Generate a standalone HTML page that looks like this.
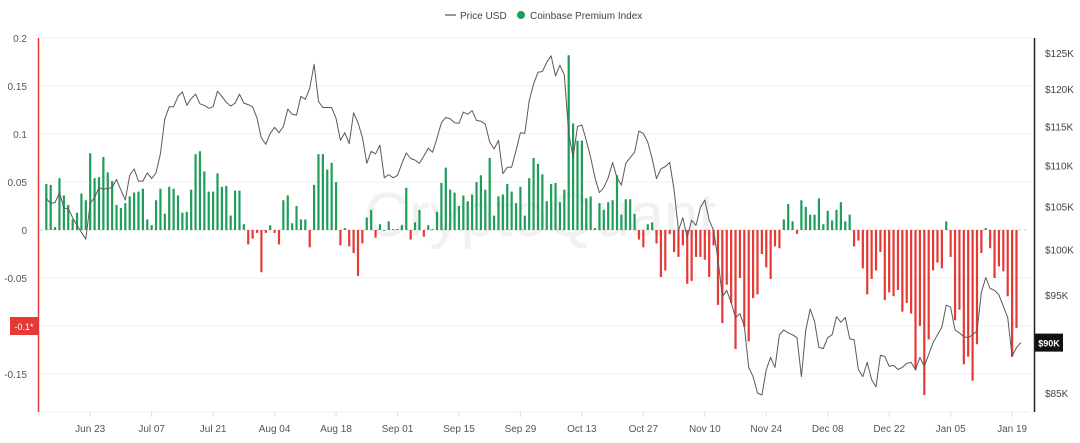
<!DOCTYPE html>
<html><head><meta charset="utf-8"><style>
html,body{margin:0;padding:0;background:#fff;}
body{width:1080px;height:438px;overflow:hidden;font-family:"Liberation Sans",sans-serif;}
svg text{font-family:"Liberation Sans",sans-serif;}
</style></head><body>
<svg id="chart" width="1080" height="438" viewBox="0 0 1080 438" xmlns="http://www.w3.org/2000/svg">
  <text x="540" y="236" text-anchor="middle" font-size="62" fill="#f1f1f3">CryptoQuant</text>
  <g id="grid"></g>
  <g id="bars"></g>
  <g id="line"></g>
  <g id="axes"></g>
  <g>
    <line x1="445" y1="15" x2="456" y2="15" stroke="#555" stroke-width="1.2"/>
    <text x="460" y="19" font-size="10" fill="#444">Price USD</text>
    <circle cx="521" cy="15" r="4" fill="#1f9d5a"/>
    <text x="530" y="19" font-size="10" fill="#444">Coinbase Premium Index</text>
  </g>
</svg>
<script>
const premium = [0.048,0.047,0.003,0.054,0.036,0.026,0.011,0.018,0.038,0.031,0.080,0.054,0.055,0.076,0.060,0.051,0.026,0.023,0.028,0.035,0.039,0.040,0.043,0.011,0.005,0.031,0.043,0.017,0.045,0.043,0.036,0.018,0.019,0.042,0.079,0.082,0.061,0.040,0.040,0.059,
0.045,0.046,0.015,0.041,0.041,0.006,-0.015,-0.009,-0.003,-0.044,-0.003,0.005,-0.003,-0.015,0.031,0.036,0.007,0.025,0.011,0.011,-0.018,0.047,0.079,0.079,0.063,0.070,0.050,-0.016,0.002,-0.017,-0.024,-0.048,-0.014,0.013,0.021,-0.008,0.006,0.000,0.009,0.001,
0.001,0.005,0.044,-0.010,0.008,0.021,-0.007,0.005,0.001,0.019,0.049,0.065,0.042,0.039,0.025,0.036,0.030,0.037,0.050,0.057,0.042,0.075,0.015,0.035,0.037,0.048,0.040,0.028,0.045,0.015,0.054,0.075,0.069,0.058,0.030,0.048,0.049,0.029,0.042,0.182,0.111,
0.093,0.093,0.033,0.035,0.002,0.028,0.021,0.029,0.031,0.057,0.016,0.032,0.032,0.017,-0.010,-0.018,0.006,0.008,-0.014,-0.049,-0.042,-0.004,-0.023,-0.028,-0.016,-0.056,-0.053,-0.028,-0.028,-0.031,-0.049,-0.016,-0.078,-0.097,-0.057,-0.076,-0.124,-0.050,-0.101,-0.116,
-0.071,-0.067,-0.025,-0.039,-0.051,-0.017,-0.019,0.011,0.027,0.009,-0.004,0.031,0.024,0.016,0.016,0.033,0.006,0.020,0.010,0.021,0.029,0.009,0.016,
-0.017,-0.011,-0.040,-0.067,-0.051,-0.042,
-0.023,-0.073,-0.065,-0.069,-0.0625,-0.085,-0.076,-0.087,-0.146,-0.100,-0.172,-0.114,-0.042,-0.034,-0.040,0.009,-0.028,-0.094,-0.083,-0.140,-0.132,-0.157,-0.119,-0.024,0.002,-0.019,-0.050,-0.038,-0.043,-0.069,-0.132,-0.102];
const priceK = [106,105.4,105.5,106.7,104.8,104.8,103.7,102.8,102,101.2,105.4,106.1,107.3,107.1,107.2,107.3,108.3,107,105.8,108.8,109.6,108.1,108.1,109.1,108.4,109.1,111.5,116,117.6,117.6,119,119.6,117.8,118.7,119.3,118,117.8,117.4,117.6,119.7,
119,118.2,117.7,118.1,119.3,118.1,117.9,117.6,116.1,113.5,112.7,114.1,114.9,114.2,115,117.3,116.6,116.5,119,118.6,120.1,123.4,118.3,117.5,117.5,117.5,116.1,113.2,114.2,112.8,116.8,115.5,113.6,110.3,111.8,111.5,112.6,108.5,108.9,108.5,
108.8,110.3,111.6,110.9,110.7,110.3,111.2,112.2,111.7,113.5,115.5,116.2,116,115.5,115.4,116.9,116.6,117.1,115.8,115.7,115.3,113,112.1,113.2,109,109.8,109.8,111.9,114.2,114.1,118.4,120.7,122.3,122.4,123.7,124.6,121.8,123.3,121.9,114.1,111,
115,115.2,113.2,111,108.5,106.7,107.3,108.5,110.4,108.5,107.6,110.3,111,111.7,114.4,114.1,113,110.9,108.4,109.6,109.9,110.4,107,102.2,103.7,101.4,103.4,102.8,104.9,105.8,103.4,102.2,98.9,94.8,95.5,94.2,92.6,93,91.7,87.5,
86.6,85,84.8,87.3,88.5,87.5,90.8,91.3,91,90.8,90.5,86.6,91.3,93.5,92.2,89.5,89.4,90.5,90.8,92.7,92.1,92.6,90.4,90.3,87.3,86.6,88,86.3,85.6,
88.7,88.6,87.6,87.7,87.3,87.5,87.9,88,87.3,88.5,87.6,88.8,90,90.8,91.6,93.9,93.7,91.3,91,90.6,90.5,90.8,91.2,95.3,96.9,95.7,95.5,95,93.8,92.6,88.6,89.5,90];
const leftTicks = [0.2,0.15,0.1,0.05,0,-0.05,-0.1,-0.15];
const leftTickLabels = ["0.2","0.15","0.1","0.05","0","-0.05","","-0.15"];
const rightTicks = [125,120,115,110,105,100,95,90,85];
const rightTickLabels = ["$125K","$120K","$115K","$110K","$105K","$100K","$95K","","$85K"];
const xTickIdx = [10,24,38,52,66,80,94,108,122,136,150,164,178,192,206,220];
const xTickLabels = ["Jun 23","Jul 07","Jul 21","Aug 04","Aug 18","Sep 01","Sep 15","Sep 29","Oct 13","Oct 27","Nov 10","Nov 24","Dec 08","Dec 22","Jan 05","Jan 19"];
const lastPrice = 90;

const NS = "http://www.w3.org/2000/svg";
const X0 = 46.3, DX = 4.39;
const xAt = i => X0 + i * DX;
const yL = v => 230 - v * 960;
const LN = Math.log(125/85);
const yR = p => 53 + (Math.log(125) - Math.log(p)) / LN * 340;
function mk(tag, attrs, parent, txt){
  const e = document.createElementNS(NS, tag);
  for (const k in attrs) e.setAttribute(k, attrs[k]);
  if (txt !== undefined) e.textContent = txt;
  parent.appendChild(e); return e;
}
const grid = document.getElementById('grid'), bars = document.getElementById('bars'),
      lineG = document.getElementById('line'), axes = document.getElementById('axes');

leftTicks.forEach((v, i) => {
  const y = yL(v);
  if (v !== 0) {
    const g = mk('line', {x1:40, x2:1030, y1:y, y2:y, stroke:'#f1f1f1', 'stroke-width':1}, grid);
    
    
  }
  if (leftTickLabels[i]) {
    const t = mk('text', {x:27, y:y+4, 'text-anchor':'end', 'font-size':10, fill:'#555'}, axes, leftTickLabels[i]);
    
    
  }
});
const zl = mk('line', {x1:40, x2:1030, y1:230, y2:230, stroke:'#ccc', 'stroke-width':1, 'stroke-dasharray':'3,3'}, grid);



premium.forEach((v, i) => {
  const x = xAt(i), y0 = yL(0), y1 = yL(v);
  const r = mk('rect', {x:x-1.1, y:Math.min(y0,y1), width:2.2, height:Math.max(0.8, Math.abs(y1-y0)), fill: v >= 0 ? '#1f9d5a' : '#e53935'}, bars);
  
  
});

const pts = priceK.map((p, i) => xAt(i).toFixed(1) + ',' + yR(p).toFixed(1)).join(' ');
const pl = mk('polyline', {points:pts, fill:'none', stroke:'#5a5a5a', 'stroke-width':1, 'stroke-linejoin':'round'}, lineG);



const la = mk('line', {x1:38.5, x2:38.5, y1:38, y2:412, stroke:'#e53935', 'stroke-width':1.5}, axes);


const ra = mk('line', {x1:1034.5, x2:1034.5, y1:38, y2:412, stroke:'#222', 'stroke-width':1.5}, axes);


const xa = mk('line', {x1:40, x2:1030, y1:412, y2:412, stroke:'#eee', 'stroke-width':1}, axes);



rightTicks.forEach((p, i) => {
  if (!rightTickLabels[i]) return;
  const t = mk('text', {x:1045, y:yR(p)+4, 'font-size':10, fill:'#444'}, axes, rightTickLabels[i]);
  
  
});

xTickIdx.forEach((idx, i) => {
  const x = xAt(idx);
  const tk = mk('line', {x1:x, x2:x, y1:412, y2:417, stroke:'#ddd', 'stroke-width':1}, axes);
  
  
  const t = mk('text', {x:x, y:432, 'text-anchor':'middle', 'font-size':10, fill:'#555'}, axes, xTickLabels[i]);
  
  
});

// badges
const lb = mk('rect', {x:10, y:yL(-0.1)-9, width:28, height:18, fill:'#e53935'}, axes);


const lbt = mk('text', {x:24, y:yL(-0.1)+4, 'text-anchor':'middle', 'font-size':9, fill:'#fff'}, axes, '-0.1*');


const yb = yR(lastPrice);
const rb = mk('rect', {x:1035, y:yb-9, width:28, height:18, fill:'#111'}, axes);


const rbt = mk('text', {x:1049, y:yb+4, 'text-anchor':'middle', 'font-size':9, 'font-weight':'bold', fill:'#fff'}, axes, '$90K');


</script>
</body></html>
